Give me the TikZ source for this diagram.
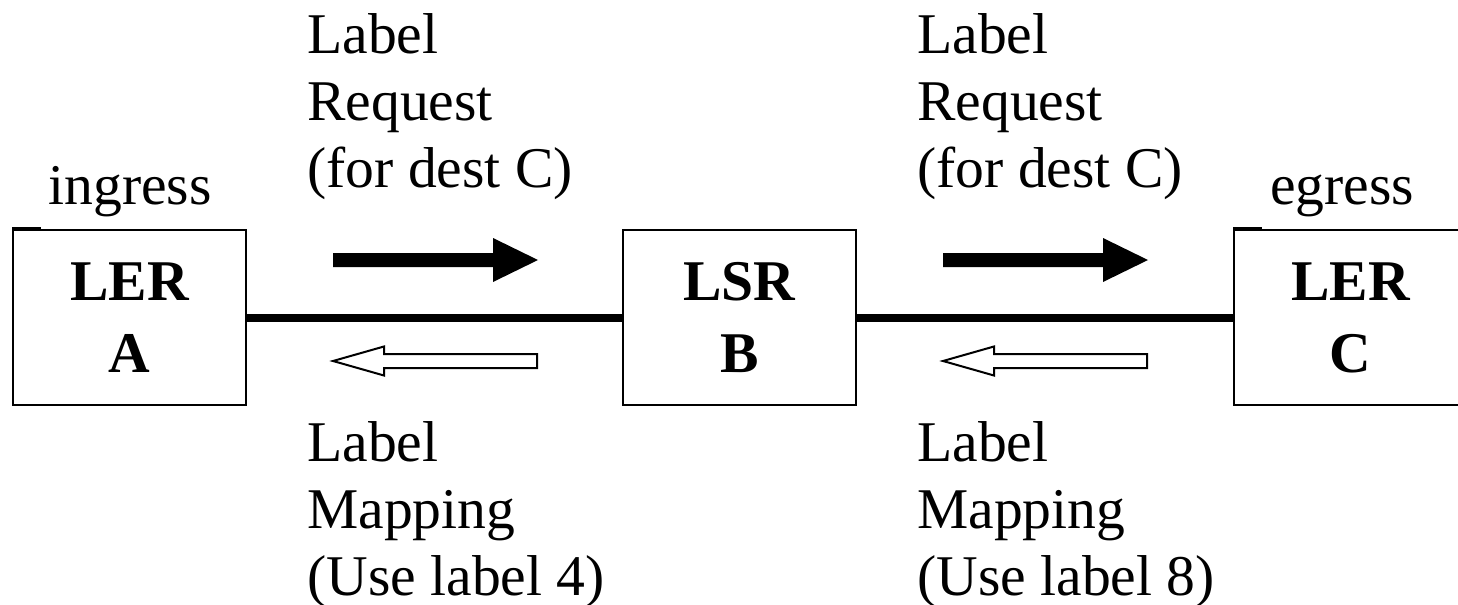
\documentclass[tikz,border=0pt]{standalone}
\usepackage{fontspec}
\setmainfont{Liberation Serif}
\begin{document}
\begin{tikzpicture}[x=0.5pt,y=-0.5pt,
  router/.style={draw,line width=1pt,minimum width=116.5pt,minimum height=87.5pt,
    inner sep=0pt,align=center,font=\bfseries\fontsize{28.8}{36}\selectfont},
  msg/.style={anchor=north west,inner sep=0pt,align=left,font=\fontsize{28.8}{33.5}\selectfont},
  tag/.style={anchor=base west,inner sep=0pt,font=\fontsize{28.8}{33.5}\selectfont},
  link/.style={line width=4pt},
  back/.style={draw,fill=white,line width=1pt},
  fwdarrow/.pic={\fill (0,-7) -- (160,-7) -- (160,-22) -- (205,0) -- (160,22) -- (160,7) -- (0,7) -- cycle;},
  backarrow/.pic={\draw[back] (0,0) -- (51,-14.5) -- (51,-7) -- (204,-7) -- (204,7) -- (51,7) -- (51,14.5) -- cycle;}]
\useasboundingbox (0,0) rectangle (1458,605);
\clip (0,0) rectangle (1458,605);

% routers
\node[router] (A) at (129.5,317.5) {LER\\A};
\node[router] (B) at (739.5,317.5) {LSR\\B};
\node[router] (C) at (1350.5,317.5) {LER\\C};
\draw[line width=2pt] (A.north west) -- ++(29,0);
\draw[line width=2pt] (C.north west) -- ++(29,0);

% links
\draw[link] (A.east) -- (B.west);
\draw[link] (B.east) -- (C.west);

% message direction arrows
\pic at (333,260) {fwdarrow};
\pic at (333,361) {backarrow};
\pic at (943,260) {fwdarrow};
\pic at (943,361) {backarrow};

% texts
\node[tag] (in) at (48,204) {ingress};
\node[tag] (eg) at (1270,204) {egress};
\node[msg] (rq1) at (307,13) {Label\\Request\\(for dest C)};
\node[msg] (rq2) at (917,13) {Label\\Request\\(for dest C)};
\node[msg] (mp1) at (307,421) {Label\\Mapping\\(Use label 4)};
\node[msg] (mp2) at (917,421) {Label\\Mapping\\(Use label 8)};
\end{tikzpicture}
\end{document}
